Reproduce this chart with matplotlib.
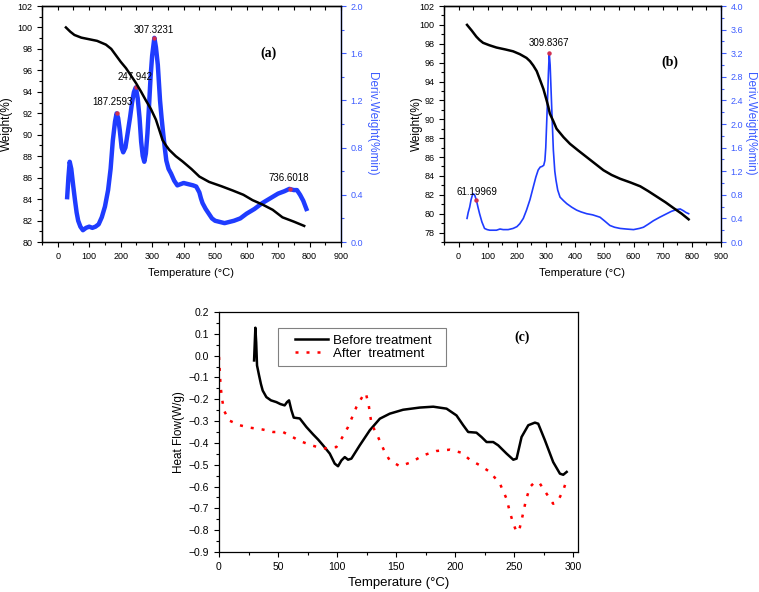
import matplotlib
matplotlib.use("Agg")
import matplotlib.pyplot as plt
from matplotlib.ticker import MultipleLocator
from matplotlib.patches import Rectangle

plt.rcParams['font.family'] = ['Liberation Sans', 'DejaVu Sans']

# ---------------- Panel (a) data ----------------
a_tga_T = [26, 40, 53, 75, 100, 125, 153, 170, 185, 200, 217, 233, 249, 265, 280, 296, 312, 322, 333, 344, 354, 375,
           397, 425, 450, 481, 520, 556, 590, 619, 650, 683, 714, 750, 783]
a_tga_W = [100.0, 99.6, 99.3, 99.05, 98.9, 98.75, 98.4, 98.0, 97.4, 96.8, 96.2, 95.5, 94.8, 94.0, 93.2, 92.4, 91.4, 90.5,
           89.5, 89.0, 88.6, 88.0, 87.5, 86.8, 86.1, 85.6, 85.2, 84.8, 84.4, 83.9, 83.5, 83.0, 82.3, 81.9, 81.5]

a_dtg_T = [30, 34, 38, 43, 49, 55, 60, 65, 72, 80, 90, 100, 110, 120, 130, 140, 150, 160, 168, 175, 182, 187, 192, 197,
           203, 208, 215, 222, 230, 236, 242, 248, 254, 260, 265, 270, 275, 280, 285, 290, 295, 300, 307, 312, 318, 325,
           330, 335, 340, 345, 352, 360, 370, 380, 390, 400, 415, 430, 440, 450, 455, 460, 470, 480, 490, 500, 515, 530,
           545, 560, 580, 600, 625, 650, 675, 700, 720, 736, 750, 760, 770, 780, 790]
a_dtg_D = [0.38, 0.55, 0.68, 0.62, 0.48, 0.35, 0.25, 0.18, 0.13, 0.10, 0.12, 0.13, 0.12, 0.13, 0.15, 0.21, 0.30, 0.44, 0.62,
           0.86, 1.02, 1.09, 1.05, 0.95, 0.80, 0.76, 0.80, 0.92, 1.06, 1.18, 1.27, 1.31, 1.22, 1.05, 0.85, 0.73, 0.68, 0.75,
           0.92, 1.15, 1.40, 1.58, 1.73, 1.65, 1.50, 1.20, 1.05, 0.92, 0.80, 0.69, 0.62, 0.58, 0.52, 0.48, 0.49, 0.50, 0.49,
           0.48, 0.47, 0.42, 0.37, 0.33, 0.28, 0.24, 0.20, 0.18, 0.17, 0.16, 0.17, 0.18, 0.20, 0.24, 0.28, 0.33, 0.37, 0.41,
           0.43, 0.45, 0.44, 0.44, 0.40, 0.35, 0.28]

a_peak_T = [187.2593, 247.942, 307.3231, 736.6018]
a_peak_D = [1.09, 1.31, 1.73, 0.45]
a_peak_lbl = ["187.2593", "247.942", "307.3231", "736.6018"]
a_lbl_xy = [(175, 1.19), (247, 1.395), (305, 1.80), (733, 0.54)]

# ---------------- Panel (b) data ----------------
b_tga_T = [29, 45, 61, 72, 84, 105, 130, 160, 187, 210, 233, 245, 256, 268, 279, 291, 302, 308, 313, 325, 336, 360, 382,
           410, 439, 468, 497, 525, 554, 590, 623, 650, 680, 710, 737, 765, 789]
b_tga_W = [100.0, 99.4, 98.75, 98.4, 98.1, 97.85, 97.6, 97.4, 97.2, 96.9, 96.5, 96.15, 95.7, 95.1, 94.2, 93.2, 92.0, 91.3,
           90.6, 89.8, 89.0, 88.1, 87.4, 86.7, 86.0, 85.3, 84.6, 84.1, 83.7, 83.3, 82.9, 82.4, 81.8, 81.2, 80.6, 80.0, 79.4]

b_dtg_T = [29, 33, 38, 43, 49, 55, 61, 67, 72, 80, 89, 98, 107, 118, 130, 142, 153, 170, 187, 200, 210, 222, 233, 245,
           256, 265, 273, 280, 286, 292, 296, 299, 302, 305, 308, 311, 314, 317, 320, 325, 330, 334, 340, 348, 360, 371,
           388, 405, 420, 439, 460, 485, 500, 519, 535, 554, 575, 600, 620, 634, 650, 668, 690, 714, 730, 748, 760, 771,
           780, 789]
b_dtg_D = [0.40, 0.50, 0.59, 0.72, 0.82, 0.80, 0.71, 0.58, 0.48, 0.34, 0.23, 0.21, 0.20, 0.20, 0.20, 0.22, 0.21, 0.21,
           0.23, 0.26, 0.31, 0.40, 0.54, 0.72, 0.93, 1.10, 1.22, 1.27, 1.28, 1.30, 1.38, 1.60, 2.00, 2.40, 2.85, 3.20, 3.00,
           2.60, 2.20, 1.56, 1.20, 1.05, 0.88, 0.76, 0.70, 0.65, 0.59, 0.54, 0.51, 0.48, 0.46, 0.42, 0.36, 0.28, 0.25, 0.23,
           0.22, 0.21, 0.23, 0.25, 0.30, 0.36, 0.42, 0.48, 0.52, 0.55, 0.56, 0.53, 0.50, 0.48]

b_peak_T = [61.19969, 309.8367]
b_peak_D = [0.71, 3.20]
b_peak_lbl = ["61.19969", "309.8367"]
b_lbl_xy = [(63, 0.85), (311, 3.38)]

# ---------------- Panel (c) data ----------------
before_T = [29.7, 30.3, 30.8, 31.5, 32.2, 33.9, 35.5, 37.0, 40.1, 44.0, 48.6, 52.0, 55.6, 57.6, 59.3, 61.3, 63.3, 68.4,
            74.0, 79.7, 84.0, 88.1, 93.8, 98.0, 100.8, 103.7, 106.5, 109.3, 112.1, 119.2, 127.7, 136.2, 144.6, 155.9,
            170.0, 181.4, 192.7, 201.1, 206.8, 211.0, 218.0, 222.3, 226.6, 232.2, 236.4, 243.5, 249.2, 252.0, 256.2,
            261.9, 267.5, 270.3, 276.0, 283.0, 288.7, 291.5, 294.4]
before_H = [-0.022, 0.06, 0.128, 0.06, -0.045, -0.09, -0.13, -0.16, -0.19, -0.205, -0.213, -0.222, -0.228, -0.213,
            -0.205, -0.25, -0.284, -0.288, -0.327, -0.361, -0.385, -0.411, -0.449, -0.495, -0.507, -0.48, -0.465,
            -0.477, -0.472, -0.411, -0.342, -0.289, -0.266, -0.248, -0.238, -0.234, -0.243, -0.274, -0.319, -0.35,
            -0.353, -0.373, -0.396, -0.396, -0.411, -0.449, -0.477, -0.472, -0.373, -0.319, -0.307, -0.312, -0.388,
            -0.488, -0.541, -0.546, -0.533]

after_T = [0.0, 0.6, 1.4, 2.8, 4.2, 8.5, 17.5, 26.0, 37.3, 45.8, 54.2, 61.3, 68.4, 78.2, 88.1, 99.4, 103.7, 109.3, 116.4,
           121.5, 124.3, 126.8, 129.1, 134.7, 140.4, 144.6, 153.1, 163.0, 172.9, 184.2, 195.5, 205.4, 212.4, 221.0,
           229.4, 237.9, 243.5, 246.3, 249.2, 252.0, 254.2, 256.2, 259.9, 263.3, 267.5, 271.8, 277.4, 283.0, 287.3,
           291.5, 294.4]
after_H = [-0.006, -0.067, -0.144, -0.205, -0.251, -0.297, -0.319, -0.33, -0.339, -0.35, -0.35, -0.37, -0.391, -0.411,
           -0.426, -0.419, -0.381, -0.327, -0.235, -0.187, -0.171, -0.228, -0.312, -0.373, -0.442, -0.48, -0.507,
           -0.488, -0.457, -0.437, -0.431, -0.445, -0.477, -0.503, -0.533, -0.587, -0.656, -0.717, -0.77, -0.808,
           -0.8, -0.755, -0.663, -0.602, -0.579, -0.587, -0.633, -0.679, -0.663, -0.617, -0.571]

series_labels = ['Before treatment', 'After  treatment']

BLUE = '#1f3cff'
BLUE_AX = '#3d5cff'
W, H = 759, 592

fig = plt.figure(figsize=(W / 100, H / 100), dpi=100)


def rect(x0, y0, x1, y1):
    return [x0 / W, 1 - y1 / H, (x1 - x0) / W, (y1 - y0) / H]


def tga_panel(pos, T, Wt, dT, dD, pT, pD, plbl, lxy, ylim, y2lim, y2step, letter, letter_xy,
              lw_dtg, wl_x, dl_x):
    ax = fig.add_axes(pos)
    ax2 = ax.twinx()
    ax.set_zorder(ax2.get_zorder() + 1)
    ax.patch.set_visible(False)
    ax2.plot(dT, dD, color=BLUE, lw=lw_dtg, solid_joinstyle='round')
    ax2.plot(pT, pD, 'o', color='#d03050', ms=2.2, zorder=5)
    for (x, y), s in zip(lxy, plbl):
        ax2.text(x, y, s, ha='center', va='center', fontsize=7)
    ax.plot(T, Wt, color='black', lw=1.8)
    ax.set_xlim(-50, 900)
    ax.set_ylim(*ylim)
    ax2.set_ylim(*y2lim)
    ax.xaxis.set_major_locator(MultipleLocator(100))
    ax.xaxis.set_minor_locator(MultipleLocator(50))
    ax.yaxis.set_major_locator(MultipleLocator(2))
    ax.yaxis.set_minor_locator(MultipleLocator(1))
    ax2.yaxis.set_major_locator(MultipleLocator(y2step))
    ax2.yaxis.set_minor_locator(MultipleLocator(y2step / 2))
    ax.tick_params(axis='both', which='both', direction='out', labelsize=6.5, width=0.8)
    ax.tick_params(which='major', length=3.5)
    ax.tick_params(which='minor', length=2)
    # inward ticks on the top spine
    top = ax.secondary_xaxis('top')
    top.xaxis.set_major_locator(MultipleLocator(50))
    top.tick_params(direction='in', length=3, width=0.8, labeltop=False)
    top.spines['top'].set_linewidth(0.9)
    ax2.tick_params(axis='y', which='both', colors=BLUE_AX, labelsize=6.5, direction='out', width=0.8)
    ax2.tick_params(which='major', length=3.5)
    ax2.tick_params(which='minor', length=2)
    ax2.spines['right'].set_color(BLUE_AX)
    for a in (ax, ax2):
        for s in a.spines.values():
            s.set_linewidth(0.9)
    ax2.spines['right'].set_linewidth(1.0)
    ax.set_xlabel('Temperature (°C)', fontsize=8)
    ax.set_ylabel('Weight(%)', fontsize=8.5)
    ax2.set_ylabel('Deriv.Weight(%min)', fontsize=8.5, color=BLUE_AX, rotation=-90)
    ax.xaxis.set_label_coords(0.5, -0.110)
    ax.yaxis.set_label_coords(wl_x, 0.5)
    ax2.yaxis.set_label_coords(dl_x, 0.5)
    ax.text(letter_xy[0], letter_xy[1], letter, transform=ax.transAxes, fontsize=10, fontweight='bold',
            family='Liberation Serif', ha='center', va='center')
    return ax


tga_panel(rect(42, 6, 341, 242), a_tga_T, a_tga_W, a_dtg_T, a_dtg_D, a_peak_T, a_peak_D, a_peak_lbl, a_lbl_xy,
          (80, 102), (0, 2.0), 0.4, '(a)', (0.759, 0.80), 3.2, -0.097, 1.124)
tga_panel(rect(444, 6, 721, 242), b_tga_T, b_tga_W, b_dtg_T, b_dtg_D, b_peak_T, b_peak_D, b_peak_lbl, b_lbl_xy,
          (77, 102), (0, 4.0), 0.4, '(b)', (0.816, 0.763), 1.2, -0.076, 1.128)

# ---------------- Panel (c) ----------------
axc = fig.add_axes(rect(219, 312, 578, 552))
axc.plot(before_T, before_H, color='black', lw=1.8, label=series_labels[0])
axc.plot(after_T, after_H, color='red', lw=1.8, linestyle=(0, (1.2, 3.2)), label=series_labels[1])
axc.set_xlim(0, 304)
axc.set_ylim(-0.9, 0.2)
axc.xaxis.set_major_locator(MultipleLocator(50))
axc.xaxis.set_minor_locator(MultipleLocator(25))
axc.yaxis.set_major_locator(MultipleLocator(0.1))
axc.yaxis.set_minor_locator(MultipleLocator(0.05))
axc.tick_params(axis='both', which='both', direction='out', labelsize=7.5, width=0.8)
axc.tick_params(which='major', length=3.5)
axc.tick_params(which='minor', length=2)
for s in axc.spines.values():
    s.set_linewidth(0.9)
axc.set_xlabel('Temperature (°C)', fontsize=9.5)
axc.set_ylabel('Heat Flow(W/g)', fontsize=8.5)
axc.xaxis.set_label_coords(0.5, -0.104)
axc.yaxis.set_label_coords(-0.095, 0.5)
# legend frame drawn separately to match the wide side padding
axc.add_patch(Rectangle((0.164, 0.775), 0.468, 0.158, transform=axc.transAxes, fill=False,
                        edgecolor='#808080', lw=0.8, zorder=4))
axc.legend(loc='center left', bbox_to_anchor=(0.212, 0.854), fontsize=9.5, frameon=False,
           handlelength=2.5, borderpad=0, borderaxespad=0, labelspacing=0.08, handletextpad=0.38)
axc.text(0.844, 0.896, '(c)', transform=axc.transAxes, fontsize=10, fontweight='bold', family='Liberation Serif',
         ha='center', va='center')

fig.savefig('out.png', dpi=100)
